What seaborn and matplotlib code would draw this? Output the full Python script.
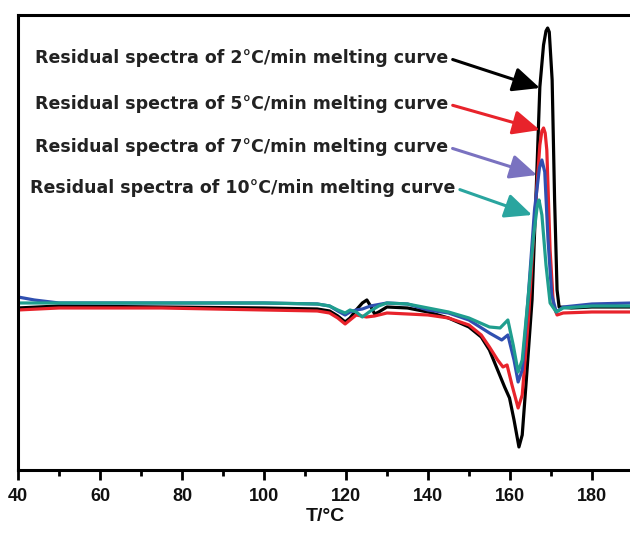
import numpy as np
import pandas as pd
import seaborn as sns
import matplotlib.pyplot as plt

# ─── DATA (T in °C, residual signal in arbitrary units) ─────────────
t_black = [40, 45, 50, 75, 100, 113, 116, 118, 119.8, 121, 122.5, 124, 125.1, 126, 127, 128,
           130, 135, 140, 145, 150, 153, 155, 157, 158.7, 159.9, 161, 162.2, 163, 164,
           165.4, 166.5, 167.3, 168.2, 168.8, 169.2, 169.6, 170.3, 170.9, 171.5, 172,
           175, 180, 190]
y_black = [-0.3, -0.2, -0.1, -0.2, -0.3, -0.4, -0.6, -1.1, -1.7, -1.3, -0.5, 0.2, 0.5, -0.1, -0.9, -0.7,
           -0.2, -0.3, -0.7, -1.3, -2.2, -3.2, -4.5, -6.5, -8.2, -9.3, -11.5, -14.2, -13.0, -7.5,
           0.5, 12.5, 21.8, 26.0, 27.4, 27.7, 27.3, 22.5, 10.5, 1.5, -0.2,
           -0.3, -0.2, -0.2]

t_red = [40, 50, 75, 100, 113, 116, 118, 119.8, 121, 122.5, 125, 127, 130, 135, 140, 145,
         150, 153, 155, 157, 158.3, 159.3, 160.5, 162, 163, 164.5, 166, 167.3, 167.8, 168.2,
         168.6, 169.0, 169.8, 170.6, 171.5, 173, 180, 190]
y_red = [-0.5, -0.3, -0.3, -0.5, -0.6, -0.8, -1.3, -1.9, -1.5, -1.0, -1.2, -1.1, -0.8, -0.9, -1.0, -1.3,
         -2.0, -3.0, -4.2, -5.5, -6.2, -6.0, -8.0, -10.3, -9.0, -1.5, 8.5, 16.0, 17.4, 17.7,
         17.2, 15.5, 5.5, 0.0, -1.0, -0.8, -0.7, -0.7]

t_blue = [40, 44, 50, 75, 100, 113, 116, 118, 119.8, 121, 122.5, 124, 126, 130, 135, 140,
          145, 150, 155, 158, 159.5, 161, 162, 163, 164.5, 166, 167.2, 167.8, 168.5, 169.3,
          170.2, 171.3, 173, 180, 190]
y_blue = [0.8, 0.5, 0.2, 0.2, 0.2, 0.1, -0.1, -0.6, -1.0, -0.7, -0.5, -0.4, -0.1, 0.2, 0.1, -0.5,
          -0.8, -1.5, -2.8, -3.5, -3.0, -5.5, -7.7, -6.5, 1.0, 9.5, 13.7, 14.5, 13.3, 6.5,
          1.0, -0.7, -0.2, 0.1, 0.2]

t_teal = [40, 50, 75, 100, 113, 116, 118, 119.8, 121, 122.5, 124, 126, 128, 130, 135, 140,
          145, 150, 155, 157.6, 159.5, 160.8, 162, 163, 164.4, 165.8, 166.7, 167.1, 167.8,
          168.8, 169.8, 171.3, 173, 180, 190]
y_teal = [0.2, 0.2, 0.2, 0.2, 0.1, -0.1, -0.5, -0.8, -0.5, -0.7, -1.2, -0.6, -0.1, 0.2, 0.1, -0.3,
          -0.7, -1.3, -2.2, -2.3, -1.5, -4.0, -6.7, -5.5, 0.5, 7.0, 10.0, 10.5, 9.0,
          4.0, 0.2, -0.7, -0.3, -0.1, -0.1]

rates = ["2", "5", "7", "10"]
labels = [f"Residual spectra of {r}°C/min melting curve" for r in rates]
line_colors = ["#000000", "#e8232b", "#2f4fb0", "#1f9e8e"]
arrow_colors = ["#000000", "#e8232b", "#7a72c0", "#2aa59f"]

x_ticks = [40, 60, 80, 100, 120, 140, 160, 180]

# ─── PLOT ──────────────────────────────────────────────────────────
sns.set_theme(style="ticks")
plt.rcParams['font.family'] = ['Liberation Sans', 'DejaVu Sans']

fig = plt.figure(figsize=(6.3, 5.34), dpi=100)
ax = fig.add_axes([0.0286, 0.1199, 0.976, 0.852])

curves = [(t_black, y_black), (t_red, y_red), (t_blue, y_blue), (t_teal, y_teal)]
for (tt, yy), c in zip(curves, line_colors):
    sns.lineplot(x=tt, y=yy, color=c, linewidth=2.3, ax=ax, sort=False)

ax.set_xlim(40, 190)
ax.set_ylim(-16.5, 29.0)
ax.set_xticks(x_ticks)
ax.set_xticks(np.arange(50, 190, 20), minor=True)
ax.set_xticklabels([str(v) for v in x_ticks], fontsize=13, fontweight="bold", color="#111111")
ax.set_yticks([])
ax.tick_params(axis="x", which="major", length=7, width=2, direction="out", pad=6, color="black")
ax.tick_params(axis="x", which="minor", length=4, width=2, direction="out", color="black")
ax.set_xlabel("T/°C", fontsize=14, fontweight="bold", labelpad=2, color="#111111")
ax.set_ylabel("")

for side in ["left", "top", "bottom"]:
    ax.spines[side].set_linewidth(2.2)
    ax.spines[side].set_color("black")
ax.spines["right"].set_visible(False)

# annotations (text pos in data coords, arrow tip)
text_pos = [(44.1, 24.7), (44.1, 20.1), (44.1, 15.8), (42.9, 11.7)]
tips = [(167.3, 21.7), (167.3, 17.5), (166.6, 13.0), (165.4, 9.0)]
for lab, tp, tip, c in zip(labels, text_pos, tips, arrow_colors):
    ax.annotate(lab, xy=tip, xytext=tp, fontsize=12.5, fontweight="bold",
                family=["DejaVu Sans"], color="#222222", ha="left", va="center",
                arrowprops=dict(arrowstyle="-|>,head_length=1.1,head_width=0.5",
                                color=c, lw=2.2, relpos=(1, 0.5),
                                shrinkA=1, shrinkB=0, mutation_scale=15))

fig.savefig("out.png", dpi=100)
